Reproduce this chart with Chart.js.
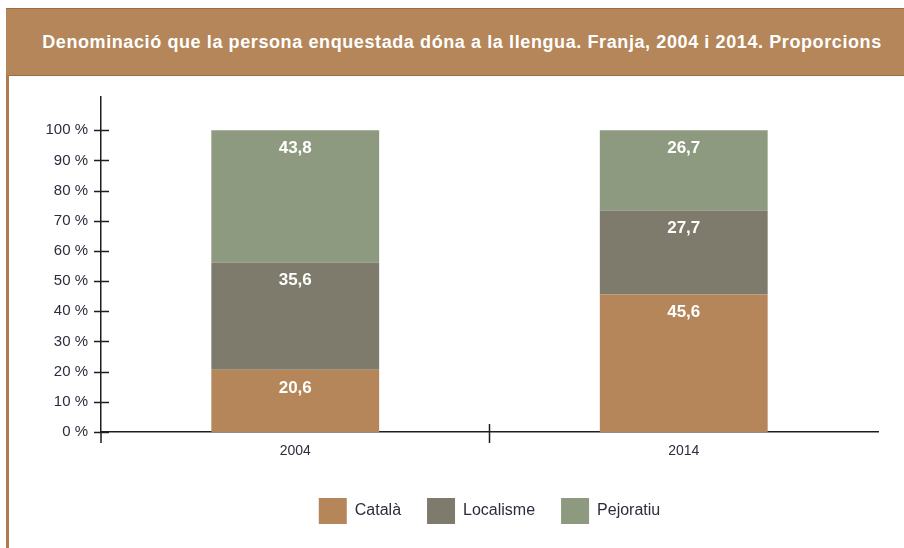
<!DOCTYPE html>
<html>
<head>
<meta charset="utf-8">
<script src="https://cdn.jsdelivr.net/npm/chart.js@4"></script>
<style>
  body { margin: 0; background: #fff; }
  #wrap { position: relative; width: 904px; height: 548px; overflow: hidden; }
  #head {
    position: absolute; left: 6px; top: 8px; width: 884px; height: 66px;
    background: #b5865a; border-top: 1px solid #a06c3e; border-bottom: 1px solid #a06c3e;
    color: #fff; font: bold 18px "Liberation Sans", Arial, sans-serif; letter-spacing: 0.6px;
    line-height: 66px; text-align: center; padding-left: 14px; white-space: nowrap;
  }
  #side { position: absolute; left: 6px; top: 75px; width: 3px; height: 473px; background: #b07a4d; }
  canvas { position: absolute; left: 0; top: 0; }
</style>
</head>
<body>
<div id="wrap">
  <canvas id="data-chart" width="904" height="548"></canvas>
  <div id="head">Denominació que la persona enquestada dóna a la llengua. Franja, 2004 i 2014. Proporcions</div>
  <div id="side"></div>
</div>
<script>
var years = ['2004', '2014'];
var catala = [20.6, 45.6];
var localisme = [35.6, 27.7];
var pejoratiu = [43.8, 26.7];

var ink = '#1e1e1e';
var labelInk = '#2c2c3c';
var font = '"Liberation Sans", Arial, sans-serif';

// ticks crossing the axes and the value labels inside each block
var marks = {
  id: 'marks',
  afterLayout: function (chart) {
    // centre the legend under the plot area, not the whole canvas
    chart.legend.left = chart.chartArea.left;
    chart.legend.right = chart.chartArea.right;
  },
  afterDraw: function (chart) {
    var c = chart.ctx, y = chart.scales.y, x = chart.scales.x, a = chart.chartArea;
    c.save();
    c.strokeStyle = ink;
    c.lineWidth = 1.5;
    c.beginPath();
    y.ticks.forEach(function (t) {
      var py = Math.round(y.getPixelForValue(t.value)) + 0.5;
      c.moveTo(a.left - 7, py);
      c.lineTo(a.left + 8, py);
    });
    c.moveTo(a.left, a.bottom);
    c.lineTo(a.left, a.bottom + 11);
    var mid = (x.getPixelForValue(0) + x.getPixelForValue(1)) / 2;
    c.moveTo(mid, a.bottom - 8);
    c.lineTo(mid, a.bottom + 11);
    c.stroke();

    c.fillStyle = '#fff';
    c.font = 'bold 17px ' + font;
    c.textAlign = 'center';
    c.textBaseline = 'middle';
    chart.data.datasets.forEach(function (ds, i) {
      chart.getDatasetMeta(i).data.forEach(function (bar, j) {
        c.fillText(String(ds.data[j]).replace('.', ','), bar.x, bar.y + 18);
      });
    });
    c.restore();
  }
};

var ctx = document.getElementById('data-chart').getContext('2d');
var chart = new Chart(ctx, {
  type: 'bar',
  data: {
    labels: years,
    datasets: [
      { label: 'Català', data: catala, backgroundColor: '#b5865a' },
      { label: 'Localisme', data: localisme, backgroundColor: '#7e7a6c' },
      { label: 'Pejoratiu', data: pejoratiu, backgroundColor: '#8e9a7f' }
    ]
  },
  options: {
    responsive: false,
    animation: false,
    devicePixelRatio: 1,
    categoryPercentage: 1,
    barPercentage: 0.432,
    layout: { padding: { top: 97, right: 26, bottom: 14, left: 0 } },
    plugins: {
      tooltip: { enabled: false },
      legend: {
        position: 'bottom',
        labels: {
          boxWidth: 28,
          boxHeight: 26,
          padding: 26,
          color: labelInk,
          font: { family: font, size: 16 }
        }
      }
    },
    scales: {
      x: {
        stacked: true,
        grid: { display: false },
        border: { display: true, color: ink, width: 1.5 },
        ticks: { color: labelInk, padding: 3, font: { family: font, size: 14 } },
        afterFit: function (s) { s.height = 40; }
      },
      y: {
        stacked: true,
        min: 0,
        max: 111,
        grid: { display: false },
        border: { display: true, color: ink, width: 1.5 },
        ticks: {
          stepSize: 10,
          padding: 5,
          color: labelInk,
          font: { family: font, size: 15 },
          callback: function (v) { return v + ' %'; }
        },
        afterBuildTicks: function (s) { s.ticks = s.ticks.filter(function (t) { return t.value <= 100; }); },
        afterFit: function (s) { s.width = 101; }
      }
    }
  },
  plugins: [marks]
});
</script>
</body>
</html>
